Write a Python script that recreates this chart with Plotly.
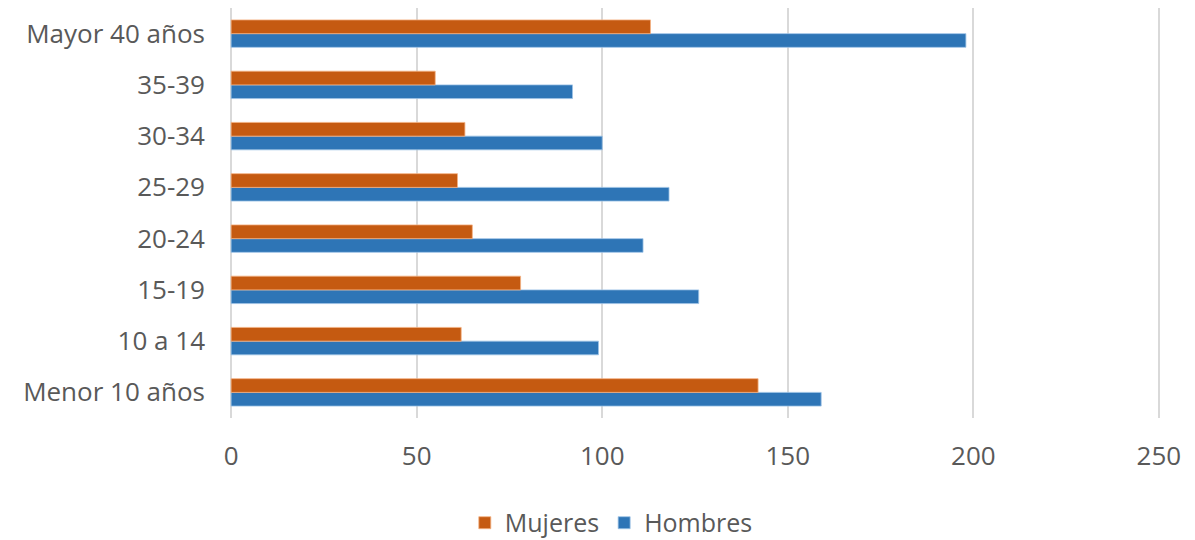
import plotly.graph_objects as go

categories = ["Menor 10 años", "10 a 14", "15-19", "20-24", "25-29", "30-34", "35-39", "Mayor 40 años"]
mujeres = [142, 62, 78, 65, 61, 63, 55, 113]
hombres = [159, 99, 126, 111, 118, 100, 92, 198]
x_ticks = [0, 50, 100, 150, 200, 250]

fig = go.Figure()
fig.add_trace(go.Bar(
    y=categories, x=hombres, name="Hombres", orientation="h",
    marker=dict(color="#2e75b6", line=dict(color="#9dc3e6", width=0.8)),
))
fig.add_trace(go.Bar(
    y=categories, x=mujeres, name="Mujeres", orientation="h",
    marker=dict(color="#c55a11", line=dict(color="#f4b183", width=0.8)),
))

font_family = "Open Sans"
fig.update_layout(
    width=1179, height=540,
    margin=dict(l=222, r=27, t=0, b=130),
    barmode="group",
    bargap=0.465,
    bargroupgap=0,
    plot_bgcolor="white",
    paper_bgcolor="white",
    font=dict(family=font_family, size=26, color="#595959"),
    showlegend=True,
    legend=dict(
        orientation="h", x=0.41, xanchor="center", y=-0.256, yanchor="middle",
        traceorder="reversed", font=dict(size=25, color="#595959"),
        itemwidth=30,
    ),
    xaxis=dict(
        range=[-0.3, 250.3], tickvals=x_ticks, showgrid=True, gridcolor="#d9d9d9",
        gridwidth=1.5, zeroline=False, showline=False, ticks="",
        ticklabelstandoff=20, tickfont=dict(size=26, color="#595959"),
        automargin=False, fixedrange=True,
    ),
    yaxis=dict(
        showgrid=False, zeroline=False, showline=False, ticks="",
        ticklabelstandoff=24, tickfont=dict(size=26, color="#595959"),
        categoryorder="array", categoryarray=categories, automargin=False,
    ),
)

fig.write_html("out.html")
